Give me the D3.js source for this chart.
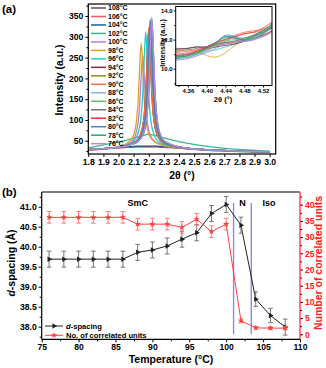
<!DOCTYPE html>
<html>
<head>
<meta charset="utf-8">
<script src="https://cdn.jsdelivr.net/npm/d3@7.9.0/dist/d3.min.js"></script>
<style>
  body { margin: 0; background: #fff; }
  svg { display: block; font-family: 'Liberation Sans', Arial, sans-serif; font-weight: bold; }
  .axis path, .axis line { stroke: #000; }
  .axis text { font-family: 'Liberation Sans', Arial, sans-serif; font-weight: bold; }
</style>
</head>
<body>
<svg id="chart" width="326" height="368"></svg>
<script>
// ---------- panel (a) data ----------
const temps = [108, 106, 104, 102, 100, 98, 96, 94, 92, 90, 88, 86, 84, 82, 80, 78, 76];
const curveColors = ['#555555', '#ff5a5a', '#1f5fa8', '#3cb88f', '#b37fdc', '#e0a020', '#22cfc8', '#7a3040',
  '#8f8f10', '#ff6a3c', '#8ab4e0', '#5ec05e', '#777777', '#ff3030', '#4f80c0', '#2aa07a', '#b58be8'];

const twoTheta = [1.80, 1.90, 2.00, 2.05, 2.10, 2.12, 2.13, 2.14, 2.15, 2.16, 2.17, 2.18, 2.19, 2.20,
  2.21, 2.22, 2.23, 2.24, 2.25, 2.26, 2.28, 2.30, 2.40, 2.50, 2.60, 2.80, 3.00];

// one row per temperature, same order as temps
const intensity = [
  [27, 30, 33, 34, 35, 35, 35, 35, 35, 35, 35, 35, 35, 35, 35, 35, 35, 35, 35, 35, 34, 34, 32, 29, 27, 24, 22], // 108
  [28, 30, 33, 34, 35, 36, 36, 36, 36, 36, 36, 36, 36, 36, 36, 36, 36, 36, 36, 36, 35, 35, 32, 30, 28, 25, 23], // 106
  [28, 31, 34, 35, 36, 37, 37, 37, 37, 37, 37, 37, 37, 37, 37, 37, 37, 37, 37, 37, 36, 36, 33, 30, 28, 25, 23], // 104
  [33, 40, 47, 51, 56, 58, 59, 60, 61, 62, 63, 64, 65, 65, 65, 64, 64, 63, 62, 61, 59, 57, 48, 41, 36, 29, 25], // 102
  [29, 31, 35, 40, 54, 74, 95, 135, 205, 256, 205, 135, 96, 75, 63, 56, 52, 48, 46, 44, 41, 38, 33, 30, 27, 25, 23], // 100
  [29, 31, 35, 42, 64, 102, 147, 227, 285, 227, 148, 103, 79, 66, 59, 53, 50, 47, 45, 43, 41, 38, 33, 30, 27, 25, 23], // 98
  [29, 31, 35, 39, 49, 60, 69, 84, 111, 160, 247, 312, 247, 160, 111, 84, 70, 61, 54, 50, 44, 41, 34, 30, 28, 25, 23], // 96
  [29, 31, 34, 38, 45, 50, 54, 61, 70, 85, 112, 163, 252, 318, 252, 163, 112, 85, 69, 60, 49, 44, 34, 30, 28, 25, 23], // 94
  [28, 31, 34, 37, 44, 48, 51, 56, 62, 71, 87, 115, 168, 260, 328, 260, 168, 115, 86, 70, 54, 46, 35, 30, 28, 25, 23], // 92
  [29, 31, 34, 38, 45, 51, 55, 62, 71, 86, 113, 165, 255, 322, 255, 165, 113, 86, 70, 61, 50, 44, 34, 30, 28, 25, 23], // 90
  [28, 31, 34, 38, 44, 48, 51, 56, 62, 72, 87, 115, 169, 261, 330, 261, 169, 115, 86, 71, 54, 46, 35, 30, 28, 25, 23], // 88
  [28, 31, 34, 38, 44, 48, 51, 57, 63, 73, 88, 118, 172, 267, 338, 267, 172, 118, 87, 72, 55, 46, 35, 30, 28, 25, 23], // 86
  [28, 31, 34, 38, 44, 48, 51, 56, 62, 72, 88, 116, 170, 263, 333, 263, 170, 116, 87, 71, 54, 46, 35, 30, 28, 25, 23], // 84
  [28, 31, 34, 37, 43, 46, 48, 52, 57, 63, 73, 88, 118, 172, 267, 338, 267, 172, 118, 87, 61, 49, 35, 30, 28, 25, 23], // 82
  [28, 31, 34, 38, 44, 49, 52, 57, 63, 73, 89, 119, 174, 270, 342, 270, 174, 119, 88, 72, 55, 47, 35, 30, 28, 25, 23], // 80
  [28, 31, 34, 37, 43, 46, 49, 53, 57, 63, 73, 89, 119, 175, 272, 344, 272, 175, 119, 88, 61, 50, 35, 30, 28, 25, 23], // 78
  [28, 31, 34, 37, 43, 47, 49, 53, 57, 64, 74, 90, 120, 176, 274, 347, 274, 176, 120, 89, 63, 51, 35, 30, 28, 25, 23], // 76
];

// inset: region around the weak higher-order peak
const insetTheta = [4.334, 4.36, 4.38, 4.40, 4.42, 4.44, 4.46, 4.48, 4.50, 4.52, 4.539];
const insetIntensity = [
  [11.3, 11.4, 11.5, 11.5, 11.6, 11.7, 11.8, 12.0, 12.3, 12.6, 12.9], // 108
  [11.0, 11.1, 11.3, 11.5, 11.8, 12.0, 12.3, 12.5, 12.6, 12.7, 13.0], // 106
  [10.8, 11.0, 11.2, 11.5, 11.8, 12.2, 12.1, 12.0, 12.2, 12.6, 13.1], // 104
  [10.9, 11.0, 11.2, 11.4, 11.7, 12.1, 12.2, 12.1, 12.3, 12.7, 13.0], // 102
  [11.0, 11.0, 11.1, 11.3, 11.5, 11.8, 11.9, 12.0, 12.1, 12.3, 12.6], // 100
  [11.2, 11.3, 11.2, 10.9, 10.8, 11.1, 11.6, 11.9, 12.0, 12.2, 12.5], // 98
  [10.7, 10.8, 11.0, 11.2, 11.3, 11.5, 11.7, 11.9, 12.1, 12.5, 12.9], // 96
  [11.4, 11.4, 11.5, 11.4, 11.5, 11.6, 11.7, 11.9, 12.1, 12.3, 12.6], // 94
  [10.8, 10.9, 11.1, 11.4, 11.7, 11.8, 11.8, 11.9, 12.1, 12.4, 12.8], // 92
  [11.1, 11.2, 11.3, 11.4, 11.6, 11.9, 12.2, 12.4, 12.5, 12.6, 12.9], // 90
  [10.6, 10.7, 10.9, 11.2, 11.6, 12.0, 12.1, 12.0, 12.1, 12.4, 12.8], // 88
  [10.7, 10.8, 11.0, 11.3, 11.6, 11.9, 12.0, 12.0, 12.2, 12.6, 13.1], // 86
  [11.2, 11.3, 11.4, 11.5, 11.7, 11.8, 11.9, 12.1, 12.3, 12.5, 12.8], // 84
  [10.9, 11.0, 11.2, 11.5, 11.8, 12.0, 12.2, 12.4, 12.5, 12.8, 13.2], // 82
  [10.7, 10.9, 11.1, 11.4, 11.8, 12.3, 12.2, 11.9, 12.0, 12.4, 12.9], // 80
  [10.8, 10.9, 11.1, 11.4, 11.8, 12.2, 12.1, 12.0, 12.2, 12.5, 12.9], // 78
  [10.6, 10.7, 10.9, 11.1, 11.4, 11.7, 11.8, 11.9, 12.0, 12.2, 12.5], // 76
];

// ---------- panel (b) data ----------
const tempB = [76, 78, 80, 82, 84, 86, 88, 90, 92, 94, 96, 98, 100, 102, 104, 106, 108];
const dSpacing = [39.69, 39.69, 39.69, 39.69, 39.69, 39.69, 39.86, 39.92, 40.02, 40.19, 40.35, 40.83, 41.06, 40.54, 38.69, 38.28, 37.99];
const dErr = [0.2, 0.2, 0.2, 0.2, 0.2, 0.2, 0.2, 0.2, 0.2, 0.2, 0.2, 0.2, 0.2, 0.2, 0.18, 0.18, 0.2];
const units = [36.1, 36.1, 36.1, 36.1, 36.1, 36.1, 34.0, 34.0, 34.0, 33.0, 35.5, 31.7, 34.0, 4.2, 2.0, 1.9, 1.9];
const unitsErr = [1.8, 1.8, 1.8, 1.8, 1.8, 1.8, 1.8, 1.8, 1.8, 1.8, 1.8, 1.8, 1.8, 0.6, 0.4, 0.4, 0.4];
const phaseLines = [101, 103.4];
const phaseLabels = [{ text: 'SmC', t: 88 }, { text: 'N', t: 102.2 }, { text: 'Iso', t: 105.8 }];

const svg = d3.select('#chart');

// ================= panel (a) =================
let xA = d3.scaleLinear().domain([1.8, 3.04]).range([88.3, 275.7]);
let yA = d3.scaleLinear().domain([18, 379]).range([154, 4]);

svg.append('clipPath').attr('id', 'clipA')
  .append('rect').attr('x', 88.3).attr('y', 4).attr('width', 187.4).attr('height', 150);

let lineA = d3.line()
  .x((d) => xA(d[0]))
  .y((d) => yA(d[1]))
  .curve(d3.curveMonotoneX);

let gA = svg.append('g').attr('clip-path', 'url(#clipA)');
temps.forEach((t, i) => {
  gA.append('path')
    .attr('d', lineA(twoTheta.map((x, j) => [x, intensity[i][j]])))
    .attr('fill', 'none')
    .attr('stroke', curveColors[i])
    .attr('stroke-width', 1.3);
});

// axes (a)
svg.append('g').attr('class', 'axis').attr('transform', 'translate(0,154)')
  .call(d3.axisBottom(xA).tickValues(d3.range(18, 31).map((v) => v / 10)).tickFormat(d3.format('.1f')).tickSize(3).tickPadding(2))
  .call((g) => g.select('.domain').remove())
  .selectAll('text').attr('font-size', 8.6);
svg.append('g').attr('class', 'axis').attr('transform', 'translate(88.3,0)')
  .call(d3.axisLeft(yA).tickValues(d3.range(50, 351, 50)).tickSize(3).tickPadding(2))
  .call((g) => g.select('.domain').remove())
  .selectAll('text').attr('font-size', 8.6);
svg.append('g').attr('class', 'axis').attr('transform', 'translate(88.3,0)')
  .call(d3.axisLeft(yA).tickValues(d3.range(25, 376, 50)).tickSize(2).tickFormat(''))
  .call((g) => g.select('.domain').remove());

svg.append('rect')
  .attr('x', 88.3).attr('y', 4).attr('width', 187.4).attr('height', 150)
  .attr('fill', 'none').attr('stroke', '#000').attr('stroke-width', 1.2);

svg.append('text').attr('x', 2).attr('y', 13).attr('font-size', 11.5).text('(a)');
svg.append('text')
  .attr('transform', 'translate(63,80) rotate(-90)')
  .attr('text-anchor', 'middle').attr('font-size', 10.5)
  .text('Intensity (a.u.)');
svg.append('text').attr('x', 182).attr('y', 179).attr('text-anchor', 'middle').attr('font-size', 10.5)
  .text('2θ (°)');

// legend (a)
let legA = svg.append('g');
temps.forEach((t, i) => {
  let y = 8 + i * 8.48;
  legA.append('line').attr('x1', 91).attr('x2', 106).attr('y1', y).attr('y2', y)
    .attr('stroke', curveColors[i]).attr('stroke-width', 1.5);
  legA.append('text').attr('x', 108).attr('y', y).attr('dy', '0.35em')
    .attr('font-size', 7).text(`${t}°C`);
});

// inset
let xI = d3.scaleLinear().domain([4.334, 4.539]).range([175.7, 272]);
let yI = d3.scaleLinear().domain([8.85, 14.27]).range([85.5, 6.5]);

svg.append('rect').attr('x', 175.7).attr('y', 6.5).attr('width', 96.3).attr('height', 79).attr('fill', '#fff');
svg.append('clipPath').attr('id', 'clipI')
  .append('rect').attr('x', 175.7).attr('y', 6.5).attr('width', 96.3).attr('height', 79);

let lineI = d3.line()
  .x((d) => xI(d[0]))
  .y((d) => yI(d[1]))
  .curve(d3.curveCatmullRom);

let gI = svg.append('g').attr('clip-path', 'url(#clipI)');
temps.forEach((t, i) => {
  gI.append('path')
    .attr('d', lineI(insetTheta.map((x, j) => [x, insetIntensity[i][j]])))
    .attr('fill', 'none')
    .attr('stroke', curveColors[i])
    .attr('stroke-width', 0.8);
});

svg.append('g').attr('class', 'axis').attr('transform', 'translate(0,85.5)')
  .call(d3.axisBottom(xI).tickValues([4.36, 4.40, 4.44, 4.48, 4.52]).tickFormat(d3.format('.2f')).tickSize(2).tickPadding(0.8))
  .call((g) => g.select('.domain').remove())
  .selectAll('text').attr('font-size', 6);
svg.append('g').attr('class', 'axis').attr('transform', 'translate(0,85.5)')
  .call(d3.axisBottom(xI).tickValues([4.34, 4.38, 4.42, 4.46, 4.50]).tickSize(1.5).tickFormat(''))
  .call((g) => g.select('.domain').remove());
svg.append('g').attr('class', 'axis').attr('transform', 'translate(175.7,0)')
  .call(d3.axisLeft(yI).tickValues([10, 12, 14]).tickSize(2).tickPadding(1))
  .call((g) => g.select('.domain').remove())
  .selectAll('text').attr('font-size', 6);
svg.append('g').attr('class', 'axis').attr('transform', 'translate(175.7,0)')
  .call(d3.axisLeft(yI).tickValues([9, 11, 13]).tickSize(1.5).tickFormat(''))
  .call((g) => g.select('.domain').remove());

svg.append('rect').attr('x', 175.7).attr('y', 6.5).attr('width', 96.3).attr('height', 79)
  .attr('fill', 'none').attr('stroke', '#000').attr('stroke-width', 1);
svg.append('text')
  .attr('transform', 'translate(165,43) rotate(-90)')
  .attr('text-anchor', 'middle').attr('font-size', 7)
  .text('Intensity (a.u.)');
svg.append('text').attr('x', 223).attr('y', 102).attr('text-anchor', 'middle').attr('font-size', 7.5)
  .text('2θ (°)');

// ================= panel (b) =================
let xB = d3.scaleLinear().domain([75, 110]).range([41.7, 300]);
let yB = d3.scaleLinear().domain([37.685, 41.37]).range([339.3, 192]);
let yR = d3.scaleLinear().domain([-1.54, 43.92]).range([339.3, 192]);

// phase boundaries
phaseLines.forEach((t) => {
  svg.append('line')
    .attr('x1', xB(t)).attr('x2', xB(t))
    .attr('y1', yR(0)).attr('y2', yR(40.5))
    .attr('stroke', '#8c8ce8').attr('stroke-width', 1.4);
});
phaseLabels.forEach((p) => {
  svg.append('text').attr('x', xB(p.t)).attr('y', yB(41.0) - 1)
    .attr('text-anchor', 'middle').attr('font-size', 9).text(p.text);
});

function drawSeries(values, errs, yScale, lineColor, barColor, symbolType, rotate) {
  let pts = tempB.map((t, i) => [t, values[i], errs[i]]);
  let g = svg.append('g');
  g.append('path')
    .attr('d', d3.line().x((d) => xB(d[0])).y((d) => yScale(d[1]))(pts))
    .attr('fill', 'none').attr('stroke', lineColor).attr('stroke-width', 1);
  pts.forEach((d) => {
    let x = xB(d[0]);
    let y1 = yScale(d[1] - d[2]);
    let y2 = yScale(d[1] + d[2]);
    g.append('line').attr('x1', x).attr('x2', x).attr('y1', y1).attr('y2', y2)
      .attr('stroke', barColor).attr('stroke-width', 0.9);
    [y1, y2].forEach((yy) => {
      g.append('line').attr('x1', x - 2.3).attr('x2', x + 2.3).attr('y1', yy).attr('y2', yy)
        .attr('stroke', barColor).attr('stroke-width', 0.9);
    });
    g.append('path')
      .attr('d', d3.symbol(symbolType, 13)())
      .attr('transform', `translate(${x},${yScale(d[1])}) rotate(${rotate})`)
      .attr('fill', lineColor);
  });
}

drawSeries(dSpacing, dErr, yB, '#222', '#666', d3.symbolTriangle, 90);
drawSeries(units, unitsErr, yR, '#ff4040', '#ff7070', d3.symbolStar, 0);

// axes (b)
svg.append('g').attr('class', 'axis').attr('transform', 'translate(0,339.3)')
  .call(d3.axisBottom(xB).tickValues(d3.range(75, 111, 5)).tickSize(3).tickPadding(2))
  .call((g) => g.select('.domain').remove())
  .selectAll('text').attr('font-size', 8.6);
svg.append('g').attr('class', 'axis').attr('transform', 'translate(0,339.3)')
  .call(d3.axisBottom(xB).tickValues(d3.range(77.5, 110, 5)).tickSize(2).tickFormat(''))
  .call((g) => g.select('.domain').remove());

svg.append('g').attr('class', 'axis').attr('transform', 'translate(41.7,0)')
  .call(d3.axisLeft(yB).tickValues(d3.range(38, 41.01, 0.5)).tickFormat(d3.format('.1f')).tickSize(3).tickPadding(2))
  .call((g) => g.select('.domain').remove())
  .selectAll('text').attr('font-size', 8.6);
svg.append('g').attr('class', 'axis').attr('transform', 'translate(41.7,0)')
  .call(d3.axisLeft(yB).tickValues(d3.range(37.75, 41.3, 0.5)).tickSize(2).tickFormat(''))
  .call((g) => g.select('.domain').remove());

let rAxis = svg.append('g').attr('class', 'axis').attr('transform', 'translate(300,0)')
  .call(d3.axisRight(yR).tickValues(d3.range(0, 41, 5)).tickSize(3).tickPadding(2))
  .call((g) => g.select('.domain').remove());
rAxis.selectAll('line').attr('stroke', '#ff2020');
rAxis.selectAll('text').attr('font-size', 8.6).attr('fill', '#ff2020');
let rMinor = svg.append('g').attr('class', 'axis').attr('transform', 'translate(300,0)')
  .call(d3.axisRight(yR).tickValues(d3.range(2.5, 43, 5)).tickSize(2).tickFormat(''))
  .call((g) => g.select('.domain').remove());
rMinor.selectAll('line').attr('stroke', '#ff2020');

// frame (b)
svg.append('line').attr('x1', 41.7).attr('x2', 300).attr('y1', 192).attr('y2', 192).attr('stroke', '#000').attr('stroke-width', 1.2);
svg.append('line').attr('x1', 41.7).attr('x2', 300).attr('y1', 339.3).attr('y2', 339.3).attr('stroke', '#000').attr('stroke-width', 1.2);
svg.append('line').attr('x1', 41.7).attr('x2', 41.7).attr('y1', 192).attr('y2', 339.3).attr('stroke', '#000').attr('stroke-width', 1.2);
svg.append('line').attr('x1', 300).attr('x2', 300).attr('y1', 192).attr('y2', 339.3).attr('stroke', '#ff2020').attr('stroke-width', 1.2);

svg.append('text').attr('x', 2).attr('y', 196).attr('font-size', 11.5).text('(b)');

let yTitle = svg.append('text')
  .attr('transform', 'translate(15,263) rotate(-90)')
  .attr('text-anchor', 'middle').attr('font-size', 10.5);
yTitle.append('tspan').attr('font-style', 'italic').text('d');
yTitle.append('tspan').text('-spacing (Å)');

svg.append('text')
  .attr('transform', 'translate(322,263) rotate(-90)')
  .attr('text-anchor', 'middle').attr('font-size', 10.5).attr('fill', '#ff2020')
  .text('Number of correlated units');

svg.append('text').attr('x', 171).attr('y', 363).attr('text-anchor', 'middle').attr('font-size', 10.5)
  .text('Temperature (°C)');

// legend (b)
let legB = [
  { y: 326, color: '#222', symbol: d3.symbolTriangle, rot: 90, italic: 'd', label: '-spacing' },
  { y: 335.3, color: '#ff4040', symbol: d3.symbolStar, rot: 0, italic: '', label: 'No. of correlated units' },
];
legB.forEach((d) => {
  svg.append('line').attr('x1', 45).attr('x2', 63).attr('y1', d.y).attr('y2', d.y)
    .attr('stroke', d.color).attr('stroke-width', 1);
  svg.append('path').attr('d', d3.symbol(d.symbol, 13)())
    .attr('transform', `translate(54,${d.y}) rotate(${d.rot})`).attr('fill', d.color);
  let t = svg.append('text').attr('x', 66).attr('y', d.y).attr('dy', '0.35em')
    .attr('font-size', 7.6);
  if (d.italic) t.append('tspan').attr('font-style', 'italic').text(d.italic);
  t.append('tspan').text(d.label);
});
</script>
</body>
</html>
